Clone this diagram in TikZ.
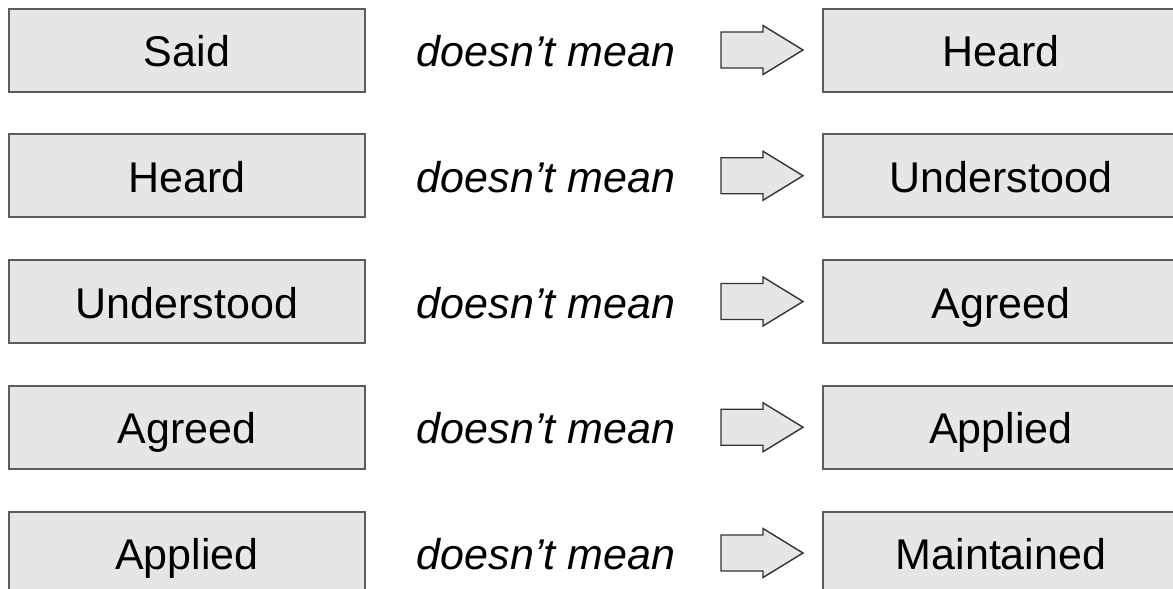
\documentclass[tikz,border=0pt]{standalone}
\usepackage{fontspec}
\setmainfont{Liberation Sans}
\usetikzlibrary{calc}
\definecolor{boxfill}{HTML}{E6E6E6}
\definecolor{boxline}{HTML}{5C5C5C}
\definecolor{arrline}{HTML}{333333}
\tikzset{
	box/.style={draw=boxline,fill=boxfill,line width=1pt,minimum width=178pt,minimum height=41.5pt,
		text height=16.5pt,text depth=0pt,inner sep=0pt,font=\fontsize{21.5}{26}\selectfont},
	mean/.style={text height=16.5pt,text depth=0pt,inner sep=0pt,font=\fontsize{21.5}{26}\selectfont\itshape},
	blockarrow/.style={draw=arrline,fill=boxfill,line width=0.7pt,line join=miter}
}
\newcommand{\makerow}[4]{
	\coordinate (#1) at (0,#2);
	\node (#1-said) at ($(#1) + (187,0)$) [box] {#3};
	\node (#1-mean) at ($(#1) + (546,0)$) [mean] {doesn’t mean};
	\coordinate (#1-tail) at ($(#1) + (721,0)$);
	\draw[blockarrow] (#1-tail) -- ++(0,-18) -- ++(42,0) -- ++(0,-6.5) -- ++(40,24.5)
		-- ++(-40,24.5) -- ++(0,-6.5) -- ++(-42,0) -- cycle;
	\node (#1-heard) at ($(#1) + (1001,0)$) [box] {#4};
}

\begin{document}
\begin{tikzpicture}[x=0.5pt,y=-0.5pt]
		\useasboundingbox (0,0) rectangle (1173,589);
		\clip (0,0) rectangle (1173,589);
		\makerow{said}{50}{Said}{Heard}
		\makerow{heard}{175.75}{Heard}{Understood}
		\makerow{understood}{301.5}{Understood}{Agreed}
		\makerow{agreed}{427.25}{Agreed}{Applied}
		\makerow{applied}{553}{Applied}{Maintained}
	\end{tikzpicture}
\end{document}
